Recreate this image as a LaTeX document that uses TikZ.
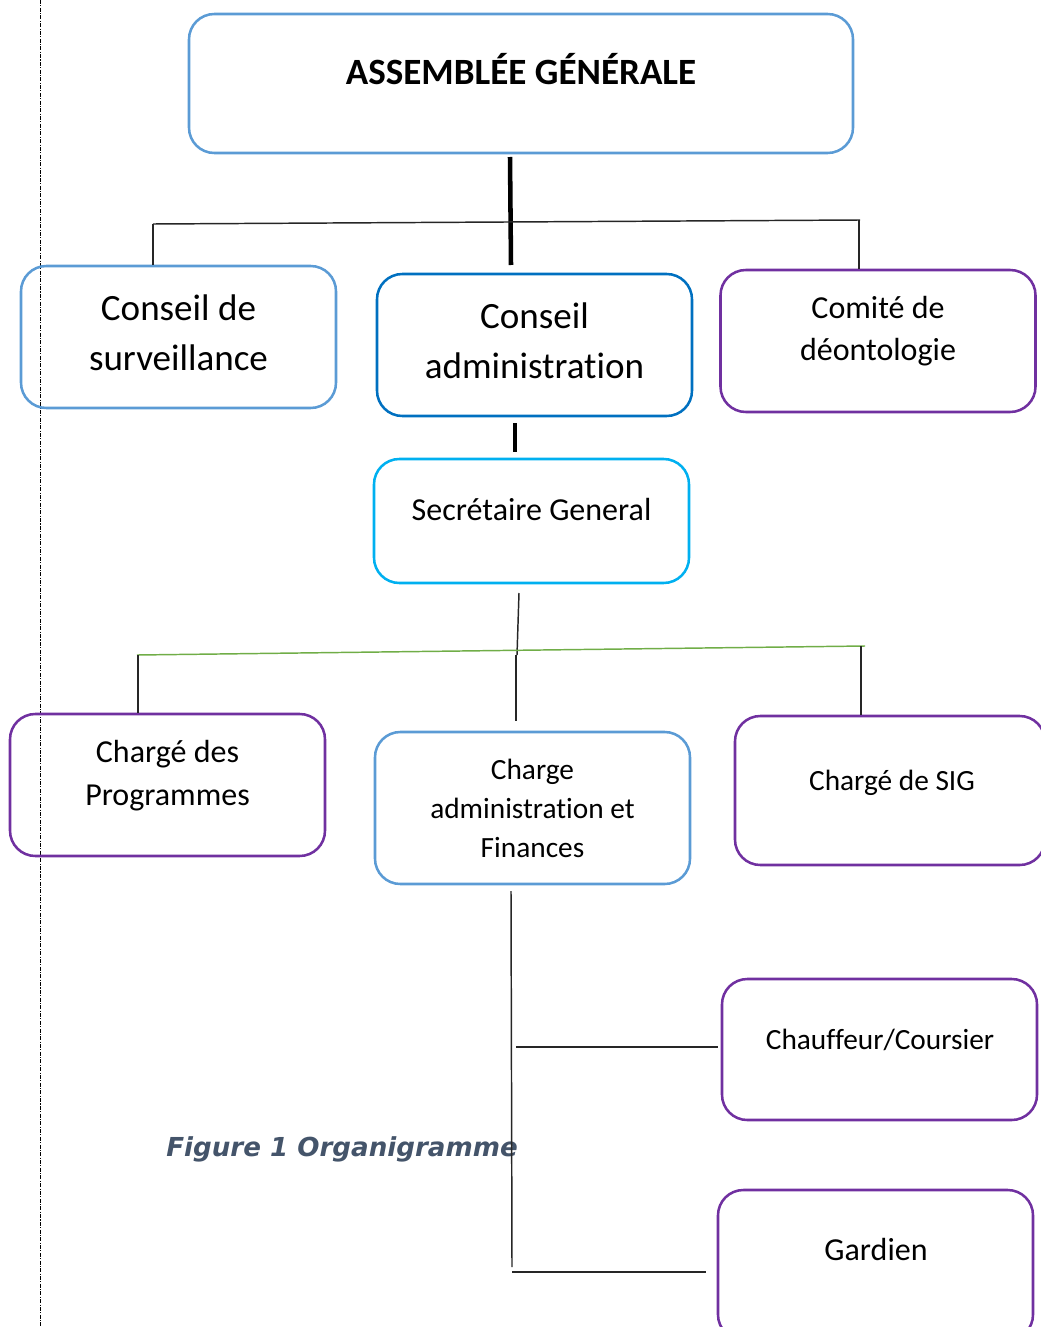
\documentclass[tikz,border=0pt]{standalone}
\usepackage{fontspec}
\setmainfont{Carlito}[Ligatures=NoCommon]
\newfontfamily\capfont{DejaVu Sans}
\definecolor{bleuA}{HTML}{5B9BD5}
\definecolor{bleuB}{HTML}{0070C0}
\definecolor{cyanC}{HTML}{00B0F0}
\definecolor{violet}{HTML}{7030A0}
\definecolor{vert}{HTML}{70AD47}
\definecolor{ardoise}{HTML}{44546A}
\begin{document}
\begin{tikzpicture}[x=0.75pt,y=-0.75pt,
  bx/.style={draw, rounded corners=19pt, line width=1.9pt, inner sep=0pt, minimum width=236.25pt, minimum height=106.5pt},
  txt/.style={inner sep=0pt, align=center, anchor=base},
  thick line/.style={line width=3.4pt, black},
  thin line/.style={line width=1.1pt, black!85},
  fA/.style={font=\fontsize{27.8}{37.5}\selectfont},
  fB/.style={font=\fontsize{24}{31.5}\selectfont},
  fC/.style={font=\fontsize{22}{28.9}\selectfont}]
\useasboundingbox (0,0) rectangle (1041,1327);
\clip (0,0) rectangle (1041,1327);
% left dash-dot margin line
\coordinate (m1) at (40,0);
\coordinate (m2) at (40,1327);
\draw[line width=0.75pt, dash pattern=on 3pt off 1pt on 0.8pt off 1pt] (m1) -- (m2);
% boxes
\node[bx, draw=bleuA, minimum width=498pt, minimum height=104.25pt] (ag) at (521,83.5) {};
\node[bx, draw=bleuA] (cs) at (178.5,337) {};
\node[bx, draw=bleuB] (ca) at (534.5,345) {};
\node[bx, draw=violet] (cd) at (878,341) {};
\node[bx, draw=cyanC, minimum height=93pt] (sg) at (531.5,521) {};
\node[bx, draw=violet] (cp) at (167.5,785) {};
\node[bx, draw=bleuA, minimum height=114pt] (caf) at (532.5,808) {};
\node[bx, draw=violet, minimum width=232.5pt, minimum height=111.75pt] (sig) at (890,790.5) {};
\node[bx, draw=violet, minimum height=105.75pt] (ch) at (879.5,1049.5) {};
\node[bx, draw=violet, minimum height=112.5pt] (ga) at (875.5,1265) {};
% texts (base anchor = baseline of the last line)
\node[txt, fA] (tag) at (521,85) {\bfseries ASSEMBLÉE GÉNÉRALE};
\node[txt, font=\fontsize{27.8}{37.5}\selectfont] (tcs) at (178.5,370) {Conseil de\\surveillance};
\node[txt, font=\fontsize{27.8}{37.5}\selectfont] (tca) at (534.5,378) {Conseil\\administration};
\node[txt, font=\fontsize{24}{31.5}\selectfont] (tcd) at (878,360) {Comité de\\déontologie};
\node[txt, fB] (tsg) at (531.5,520) {Secrétaire General};
\node[txt, font=\fontsize{24}{32.25}\selectfont] (tcp) at (167.5,805) {Chargé des\\Programmes};
\node[txt, font=\fontsize{22}{28.9}\selectfont] (tcaf) at (532.5,857) {Charge\\administration et\\Finances};
\node[txt, fC] (tsig) at (892,790) {Chargé de SIG};
\node[txt, fC] (tch) at (880,1049) {Chauffeur/Coursier};
\node[txt, fB] (tga) at (876,1260) {Gardien};
% caption
\node[txt, font=\capfont\bfseries\itshape\fontsize{19.6}{24}\selectfont, text=ardoise, anchor=base west] (cap) at (166,1156) {Figure 1 Organigramme};
% connectors level 1
\coordinate (a1) at (510,157);
\coordinate (a2) at (511,265);
\draw[thick line] (a1) -- (a2);
\coordinate (h1) at (153,224);
\coordinate (h2) at (860,220);
\draw[thin line] (h1) -- (h2);
\draw[thin line] (h1) -- (h1 |- cs.north);
\coordinate (h3) at (859,220);
\draw[thin line] (h3) -- (h3 |- cd.north);
% CA -> SG
\coordinate (b1) at (515,423);
\coordinate (b2) at (515,452);
\draw[thick line] (b1) -- (b2);
% SG -> level 3
\coordinate (c1) at (519,593);
\coordinate (c2) at (517,655);
\draw[thin line] (c1) -- (c2);
\coordinate (g1) at (137,655);
\coordinate (g2) at (865,646);
\draw[line width=1.1pt, vert] (g1) -- (g2);
\coordinate (d1) at (138,655);
\draw[thin line] (d1) -- (d1 |- cp.north);
\coordinate (d2) at (516,655);
\coordinate (d3) at (516,721);
\draw[thin line] (d2) -- (d3);
\coordinate (d4) at (861,646);
\draw[thin line] (d4) -- (d4 |- sig.north);
% CAF -> chauffeur, gardien
\coordinate (e1) at (511,891);
\coordinate (e2) at (512,1267);
\draw[thin line] (e1) -- (e2);
\coordinate (f1) at (516,1047);
\coordinate (f2) at (718,1047);
\draw[thin line] (f1) -- (f2);
\coordinate (k1) at (512,1272);
\coordinate (k2) at (706,1272);
\draw[thin line] (k1) -- (k2);
\end{tikzpicture}
\end{document}
